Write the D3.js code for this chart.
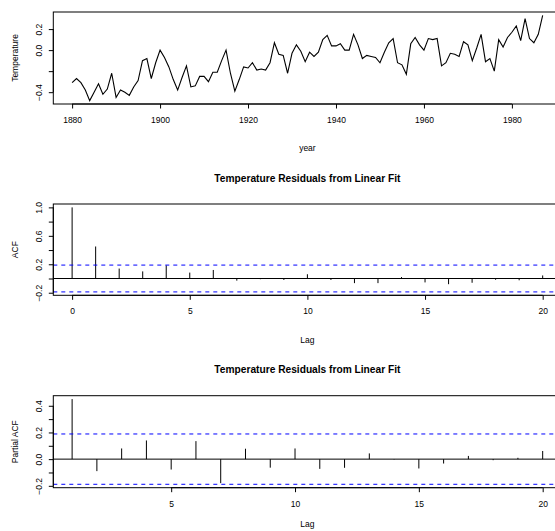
<!DOCTYPE html>
<html>
<head>
<meta charset="utf-8">
<script src="https://cdn.jsdelivr.net/npm/d3@7"></script>
<style>
body{margin:0;background:#fff;}
svg{display:block;font-family:"Liberation Sans",Arial,Helvetica,sans-serif;}
</style>
</head>
<body>
<svg id="chart" width="555" height="531"></svg>
<script>
'use strict';

// yearly temperature deviations, 1880-1987
var years = d3.range(1880, 1988);
var temps = [
  -0.31,-0.27,-0.31,-0.38,-0.48,-0.40,-0.32,-0.42,-0.37,-0.22,
  -0.45,-0.38,-0.40,-0.43,-0.35,-0.29,-0.10,-0.08,-0.27,-0.12,
   0.00,-0.07,-0.16,-0.28,-0.38,-0.26,-0.15,-0.35,-0.34,-0.25,
  -0.25,-0.30,-0.21,-0.21,-0.10, 0.00,-0.22,-0.39,-0.28,-0.16,
  -0.17,-0.12,-0.19,-0.18,-0.19,-0.12, 0.07,-0.04,-0.05,-0.22,
  -0.03, 0.05,-0.01,-0.11,-0.02,-0.06,-0.02, 0.10, 0.14, 0.04,
   0.04, 0.06, 0.00, 0.00, 0.15, 0.05,-0.08,-0.05,-0.06,-0.07,
  -0.12,-0.02, 0.07, 0.11,-0.12,-0.14,-0.23, 0.06, 0.12, 0.05,
   0.00, 0.11, 0.10, 0.11,-0.15,-0.12,-0.03,-0.04,-0.06, 0.08,
   0.05,-0.10, 0.02, 0.15,-0.11,-0.08,-0.20, 0.10, 0.03, 0.12,
   0.17, 0.23, 0.09, 0.30, 0.11, 0.07, 0.15, 0.33
];
var yearTicks = [1880, 1900, 1920, 1940, 1960, 1980];
var tempTicks = [-0.4, -0.2, 0.0, 0.2];
var tempLabels = [-0.4, 0.0, 0.2];

// residual autocorrelations
var acfLags = d3.range(0, 21);
var acfVals = [1.0, 0.45, 0.14, 0.10, 0.185, 0.083, 0.12, -0.03, -0.01, -0.02,
  0.06, -0.02, -0.065, -0.065, 0.02, -0.055, -0.08, -0.06, -0.018, -0.025, 0.043];
var acfTicks = [-0.2, 0.0, 0.2, 0.4, 0.6, 0.8, 1.0];
var acfLabels = [-0.2, 0.2, 0.6, 1.0];
var acfLagTicks = [0, 5, 10, 15, 20];

// residual partial autocorrelations
var pacfLags = d3.range(1, 21);
var pacfVals = [0.45, -0.09, 0.08, 0.14, -0.078, 0.135, -0.18, 0.078, -0.064, 0.08,
  -0.073, -0.065, 0.043, -0.003, -0.07, -0.033, 0.024, -0.008, 0.01, 0.061];
var pacfTicks = [-0.2, -0.1, 0.0, 0.1, 0.2, 0.3, 0.4];
var pacfLabels = [-0.2, 0.0, 0.2, 0.4];
var pacfLagTicks = [5, 10, 15, 20];

var title = 'Temperature Residuals from Linear Fit';
var clim = 1.96 / Math.sqrt(temps.length);

var svg = d3.select('#chart');
var left = 53.3, right = 561.5;
var fs = 8.5;

//R style 4% padding on data range
var pad = function(ext){
  var r = ext[1] - ext[0];
  return [ext[0] - 0.04 * r, ext[1] + 0.04 * r];
};

var fmt = function(v){
  return d3.format('.1f')(v).replace('-', '\u2212');
};

var drawAxes = function(x, y, top, bottom, xTicks, yTicks, yLabels, xFmt){
  var g = svg.append('g');
  // bottom axis
  var xa = g.append('g').attr('transform', 'translate(0,' + bottom + ')')
    .call(d3.axisBottom(x).tickValues(xTicks).tickSize(4.5).tickFormat(xFmt));
  xa.select('.domain').remove();
  xa.append('line')
    .attr('x1', x(xTicks[0])).attr('x2', x(xTicks[xTicks.length - 1]))
    .attr('stroke', '#000');
  xa.selectAll('text').attr('y', 19).attr('dy', null)
    .attr('font-size', fs).attr('font-family', null).attr('fill', '#000');
  // left axis
  var ya = g.append('g').attr('transform', 'translate(' + left + ',0)')
    .call(d3.axisLeft(y).tickValues(yTicks).tickSize(4.5).tickFormat(function(v){
      return yLabels.some(function(l){ return Math.abs(l - v) < 1e-9; }) ? fmt(v) : '';
    }));
  ya.select('.domain').remove();
  ya.append('line')
    .attr('y1', y(yTicks[0])).attr('y2', y(yTicks[yTicks.length - 1]))
    .attr('stroke', '#000');
  ya.selectAll('text')
    .attr('x', null).attr('dy', null)
    .attr('transform', 'translate(-11.5,0) rotate(-90)')
    .attr('text-anchor', 'middle')
    .attr('font-size', fs).attr('font-family', null).attr('fill', '#000');
  // box
  g.append('rect')
    .attr('x', left).attr('y', top)
    .attr('width', right - left).attr('height', bottom - top)
    .attr('fill', 'none').attr('stroke', '#000');
};

var axisLabels = function(xLab, xLabY, yLab, midY){
  svg.append('text').attr('x', (left + right) / 2).attr('y', xLabY)
    .attr('text-anchor', 'middle').attr('font-size', fs).text(xLab);
  svg.append('text')
    .attr('transform', 'translate(18,' + midY + ') rotate(-90)')
    .attr('text-anchor', 'middle').attr('font-size', fs).text(yLab);
};

//Panel 1: time series
(function(){
  var top = 12, bottom = 104;
  var x = d3.scaleLinear().domain(pad(d3.extent(years))).range([left, right]);
  var y = d3.scaleLinear().domain(pad(d3.extent(temps))).range([bottom, top]);
  svg.append('path')
    .datum(temps)
    .attr('fill', 'none').attr('stroke', '#000').attr('stroke-width', 1.1)
    .attr('d', d3.line().x(function(d, i){ return x(years[i]); }).y(function(d){ return y(d); }));
  drawAxes(x, y, top, bottom, yearTicks, tempTicks, tempLabels, d3.format('d'));
  axisLabels('year', 151, 'Temperature', (top + bottom) / 2);
})();

//Panel 2 and 3: correlograms
var correlogram = function(lags, vals, top, bottom, lagTicks, yTicks, yLabels, yLab, titleY, labY){
  var x = d3.scaleLinear().domain(pad(d3.extent(lags))).range([left, right]);
  var y = d3.scaleLinear().domain(pad(d3.extent(vals.concat([-clim, clim])))).range([bottom, top]);
  var g = svg.append('g');
  g.selectAll('line.spike').data(vals).enter().append('line')
    .attr('class', 'spike')
    .attr('x1', function(d, i){ return x(lags[i]); })
    .attr('x2', function(d, i){ return x(lags[i]); })
    .attr('y1', y(0)).attr('y2', function(d){ return y(d); })
    .attr('stroke', '#000');
  g.append('line').attr('x1', left).attr('x2', right)
    .attr('y1', y(0)).attr('y2', y(0)).attr('stroke', '#000');
  g.selectAll('line.ci').data([clim, -clim]).enter().append('line')
    .attr('class', 'ci')
    .attr('x1', left).attr('x2', right)
    .attr('y1', function(d){ return y(d); }).attr('y2', function(d){ return y(d); })
    .attr('stroke', '#0000ff').attr('stroke-dasharray', '4,4');
  drawAxes(x, y, top, bottom, lagTicks, yTicks, yLabels, d3.format('d'));
  axisLabels('Lag', labY, yLab, (top + bottom) / 2);
  svg.append('text').attr('x', (left + right) / 2).attr('y', titleY)
    .attr('text-anchor', 'middle').attr('font-size', 10.2).attr('font-weight', 'bold')
    .text(title);
};

correlogram(acfLags, acfVals, 204, 295.3, acfLagTicks, acfTicks, acfLabels, 'ACF', 182, 343);
correlogram(pacfLags, pacfVals, 395.7, 487.7, pacfLagTicks, pacfTicks, pacfLabels, 'Partial ACF', 373, 527);
</script>
</body>
</html>
